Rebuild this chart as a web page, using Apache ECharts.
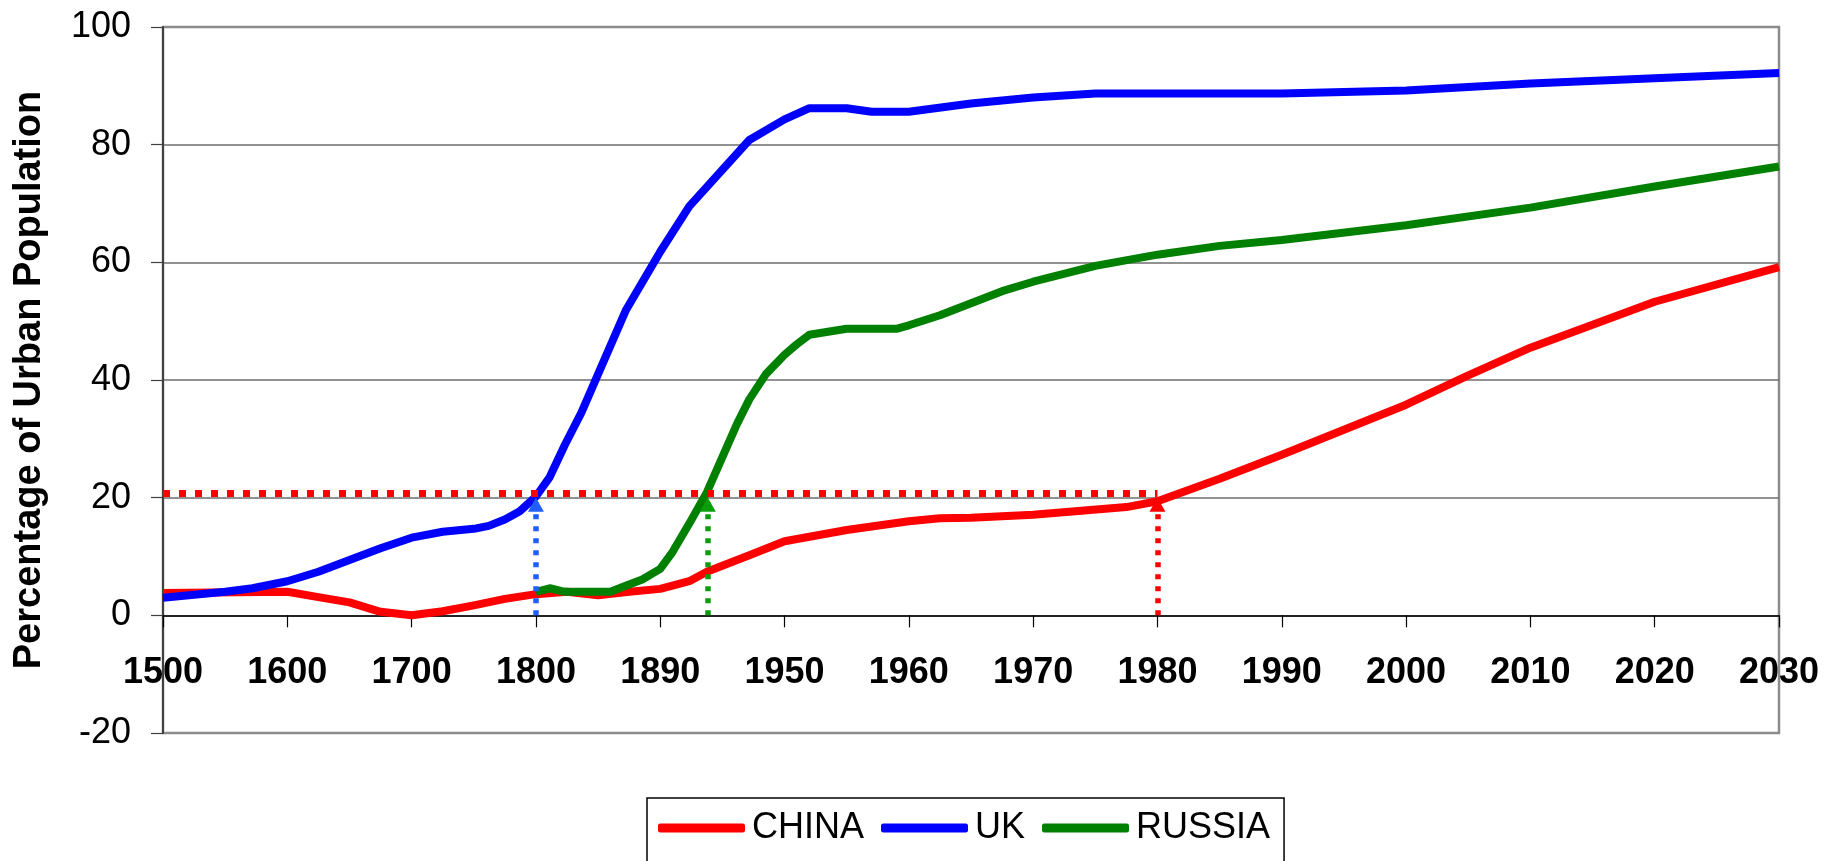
<!DOCTYPE html>
<html>
<head>
<meta charset="utf-8">
<title>Percentage of Urban Population</title>
<script src="https://cdn.jsdelivr.net/npm/echarts@6/dist/echarts.min.js"></script>
<style>
  html, body { margin: 0; padding: 0; background: #fff; }
  #chart { width: 1826px; height: 861px; }
</style>
</head>
<body>
<div id="chart"></div>
<script>
// Year labels sit on evenly spaced ticks of the horizontal axis.
const tickYears = [1500, 1600, 1700, 1800, 1890, 1950, 1960, 1970, 1980, 1990, 2000, 2010, 2020, 2030];
const yTicks = { min: -20, max: 100, step: 20 };

// Urban population share (%) by year.
const chinaYears  = [1500, 1600, 1625, 1650, 1675, 1700, 1725, 1750, 1775, 1800, 1822.5, 1845, 1867.5, 1890, 1904, 1912.5, 1933, 1950, 1955, 1960, 1962.5, 1965, 1970, 1977.5, 1980, 1985, 1990, 2000, 2005, 2010, 2020, 2030];
const chinaValues = [3.8, 4.0, 3.1, 2.2, 0.6, 0.0, 0.7, 1.7, 2.8, 3.6, 4.0, 3.4, 4.0, 4.5, 5.8, 7.4, 10.2, 12.6, 14.5, 16.0, 16.5, 16.6, 17.1, 18.4, 19.4, 23.2, 27.3, 35.8, 40.8, 45.5, 53.3, 59.2];

const ukYears  = [1500, 1525, 1550, 1572, 1600, 1625, 1650, 1675, 1700, 1725, 1750, 1762, 1775, 1787, 1800, 1810, 1821, 1833, 1845, 1865, 1890, 1904, 1933, 1950, 1952, 1955, 1957, 1960, 1965, 1970, 1975, 1990, 2000, 2010, 2020, 2030];
const ukValues = [3.0, 3.5, 4.0, 4.6, 5.8, 7.4, 9.4, 11.4, 13.2, 14.2, 14.7, 15.2, 16.3, 17.7, 20.2, 23.5, 29.0, 34.5, 41.0, 51.8, 61.8, 69.5, 80.8, 84.3, 86.2, 86.2, 85.6, 85.6, 87.0, 88.0, 88.7, 88.7, 89.2, 90.4, 91.3, 92.2];

const russiaYears  = [1800, 1810, 1821, 1845, 1854, 1866, 1877, 1890, 1896, 1905, 1912.5, 1927, 1933, 1941, 1950, 1951, 1952, 1955, 1959, 1960, 1962.5, 1967.5, 1970, 1975, 1980, 1985, 1990, 2000, 2010, 2020, 2030];
const russiaValues = [4.0, 4.6, 4.0, 4.0, 4.0, 5.1, 6.1, 7.9, 10.8, 16.2, 20.9, 32.5, 36.7, 41.0, 44.3, 46.1, 47.7, 48.7, 48.7, 49.3, 51.0, 55.1, 56.7, 59.4, 61.3, 62.8, 63.8, 66.3, 69.3, 72.9, 76.3];

// The 20 % urbanisation threshold and the year each country passes it.
const thresholdLevel = 20.7;
const arrowLevel = 20;
const crossingYears = { CHINA: 1980, UK: 1800, RUSSIA: 1913 };

// Map a year onto the tick slot scale (piecewise linear between labelled ticks).
function yearToSlot(year) {
  for (let i = 0; i < tickYears.length - 1; i++) {
    const a = tickYears[i], b = tickYears[i + 1];
    if (year <= b) return i + (year - a) / (b - a);
  }
  return tickYears.length - 1;
}
const toPoints = (years, values) => years.map((y, i) => [yearToSlot(y), values[i]]);

const FONT = 'Liberation Sans, Arial, sans-serif';

// Plot box; the year axis is lifted from the bottom edge up to the zero line.
const W = 1826, H = 861;
const G = { left: 163, right: 47, top: 27, bottom: 128 };
const plotH = H - G.top - G.bottom;
const zeroLift = -plotH * (0 - yTicks.min) / (yTicks.max - yTicks.min);

function arrowLine(year, color) {
  const s = yearToSlot(year);
  return [
    { coord: [s, 0], symbol: 'none', lineStyle: { color, width: 5.5, type: [5, 7] } },
    { coord: [s, arrowLevel], symbol: 'triangle', symbolSize: [16, 14], symbolOffset: [0, 7] }
  ];
}

function markLines(items) {
  return {
    silent: true, animation: false,
    symbol: ['none', 'triangle'],
    symbolSize: [16, 14],
    label: { show: false }, emphasis: { disabled: true },
    data: items
  };
}

const chart = echarts.init(document.getElementById('chart'), null, { renderer: 'canvas' });

chart.setOption({
  animation: false,
  backgroundColor: '#ffffff',
  grid: {
    left: G.left, right: G.right, top: G.top, bottom: G.bottom,
    containLabel: false,
    outerBoundsMode: 'none',
    show: true,
    borderColor: '#8c8c8c',
    borderWidth: 2.5,
    backgroundColor: 'transparent'
  },
  legend: {
    data: ['CHINA', 'UK', 'RUSSIA'],
    left: 647, top: 798,
    orient: 'horizontal',
    icon: 'roundRect',
    itemWidth: 87, itemHeight: 9,
    itemGap: 17,
    padding: [12, 14, 40, 11],
    borderColor: '#000', borderWidth: 1.5,
    selectedMode: false,
    textStyle: { fontSize: 36, fontFamily: FONT, color: '#000', padding: [0, 0, 0, 2] }
  },
  xAxis: {
    type: 'value',
    position: 'bottom',
    offset: zeroLift,
    min: 0, max: tickYears.length - 1, interval: 1,
    axisLine: { show: true, onZero: false, lineStyle: { color: '#000', width: 1.5 } },
    axisTick: { show: true, inside: false, length: 12, lineStyle: { color: '#000', width: 1.2 } },
    axisLabel: {
      margin: 40,
      fontSize: 36, fontWeight: 'bold', fontFamily: FONT, color: '#000',
      showMinLabel: true, showMaxLabel: true,
      formatter: v => String(tickYears[Math.round(v)])
    },
    splitLine: { show: false }
  },
  yAxis: {
    type: 'value',
    min: yTicks.min, max: yTicks.max, interval: yTicks.step,
    name: 'Percentage of Urban Population',
    nameLocation: 'middle',
    nameGap: 114,
    nameRotate: 90,
    nameTextStyle: { fontSize: 38, fontWeight: 'bold', fontFamily: FONT, color: '#000' },
    axisLine: { show: true, lineStyle: { color: '#404040', width: 2 } },
    axisTick: { show: true, inside: false, length: 12, lineStyle: { color: '#404040', width: 1.2 } },
    axisLabel: { margin: 32, fontSize: 36, fontFamily: FONT, color: '#000' },
    splitLine: { show: true, showMinLine: false, showMaxLine: false, lineStyle: { color: '#6e6e6e', width: 1.5 } }
  },
  series: [
    {
      name: 'CHINA', type: 'line', showSymbol: false, symbol: 'none',
      color: '#ff0000',
      lineStyle: { color: '#ff0000', width: 8, join: 'round' },
      data: toPoints(chinaYears, chinaValues),
      markLine: markLines([
        [
          { coord: [0, thresholdLevel], symbol: 'none', lineStyle: { color: '#ff0000', width: 7, type: [7, 9] } },
          { coord: [yearToSlot(crossingYears.CHINA), thresholdLevel], symbol: 'none' }
        ],
        arrowLine(crossingYears.CHINA, '#ff0000')
      ])
    },
    {
      name: 'UK', type: 'line', showSymbol: false, symbol: 'none',
      color: '#0000ff',
      lineStyle: { color: '#0000ff', width: 8, join: 'round' },
      data: toPoints(ukYears, ukValues),
      markLine: markLines([arrowLine(crossingYears.UK, '#1f5fff')])
    },
    {
      name: 'RUSSIA', type: 'line', showSymbol: false, symbol: 'none',
      color: '#008000',
      lineStyle: { color: '#008000', width: 8, join: 'round' },
      data: toPoints(russiaYears, russiaValues),
      markLine: markLines([arrowLine(crossingYears.RUSSIA, '#0a9e0a')])
    }
  ]
});
</script>
</body>
</html>
